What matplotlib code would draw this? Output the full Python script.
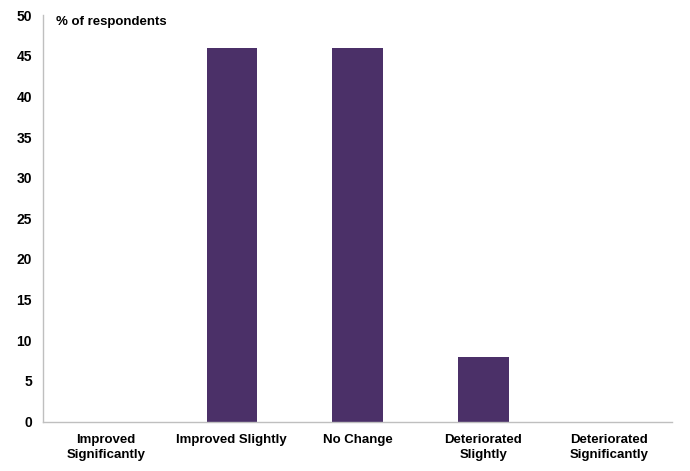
import matplotlib
matplotlib.use("Agg")
import matplotlib.pyplot as plt
import numpy as np

# data
categories = ["Improved\nSignificantly", "Improved Slightly", "No Change",
              "Deteriorated\nSlightly", "Deteriorated\nSignificantly"]
values = [0, 46, 46, 8, 0]
yticks = [0, 5, 10, 15, 20, 25, 30, 35, 40, 45, 50]

plt.rcParams['font.family'] = ['Liberation Sans', 'DejaVu Sans']

fig = plt.figure(figsize=(6.9, 4.71), dpi=100)
ax = fig.add_axes([0.0623, 0.105, 0.912, 0.863])

x = np.arange(len(categories))
ax.bar(x, values, width=0.4, color="#4B3068")

ax.set_xlim(-0.5, len(categories) - 0.5)
ax.set_ylim(0, 50)
ax.set_yticks(yticks)
ax.set_yticklabels([str(t) for t in yticks], fontsize=10, fontweight="bold")
ax.set_xticks(x)
ax.set_xticklabels(categories, fontsize=9.5, fontweight="bold", linespacing=1.35)
ax.tick_params(axis="both", length=0)
ax.tick_params(axis="y", pad=8)
ax.tick_params(axis="x", pad=9)

for s in ["top", "right"]:
    ax.spines[s].set_visible(False)
for s in ["left", "bottom"]:
    ax.spines[s].set_color("#BFBFBF")
    ax.spines[s].set_linewidth(1.0)

# axis caption sits inside the plot area, top left
ax.text(0.02, 0.997, "% of respondents", transform=ax.transAxes,
        fontsize=9.5, fontweight="bold", va="top", ha="left")

fig.savefig("out.png", dpi=100)
